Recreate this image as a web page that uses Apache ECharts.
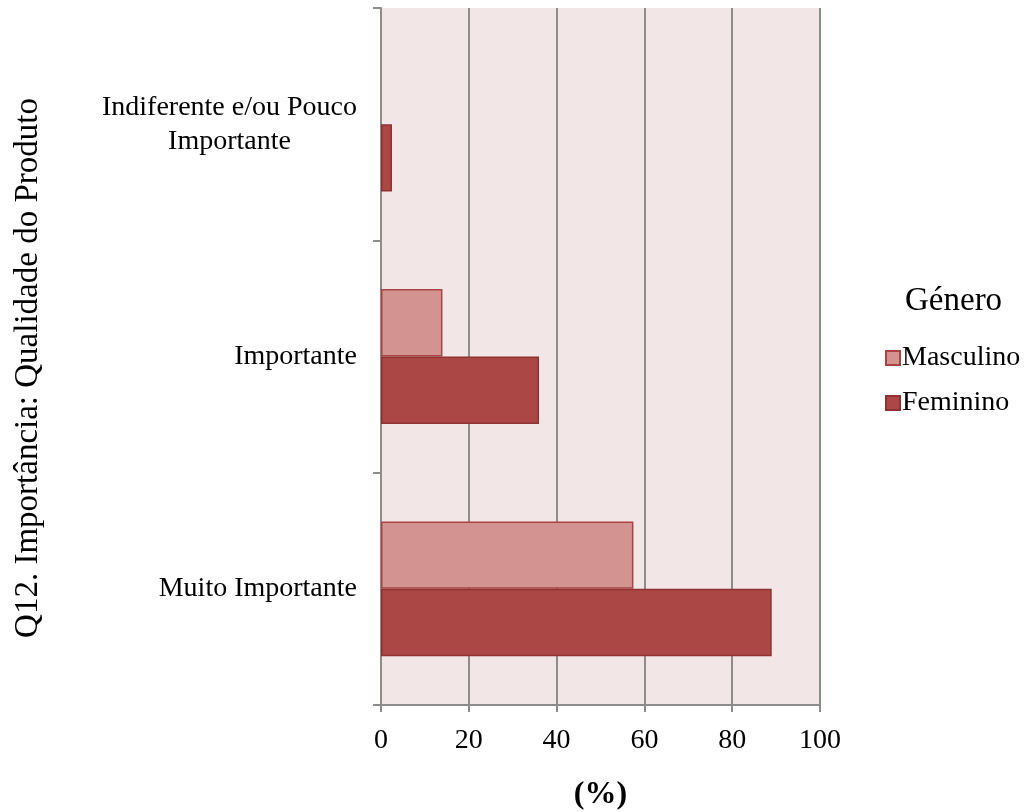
<!DOCTYPE html>
<html><head><meta charset="utf-8">
<script src="https://cdn.jsdelivr.net/npm/echarts@6/dist/echarts.min.js"></script>
<style>html,body{margin:0;padding:0;background:#fff}#c{width:1026px;height:812px}</style>
</head><body><div id="c"></div>
<script>
const categories = ['Indiferente e/ou Pouco Importante', 'Importante', 'Muito Importante'];
const categoryLabels = ['Indiferente e/ou Pouco\nImportante', 'Importante', 'Muito Importante'];
const masculino = [null, 14, 57.5];
const feminino = [2.5, 36, 89];
const xTicks = [0, 20, 40, 60, 80, 100];
const seriesNames = ['Masculino', 'Feminino'];
const legendTitle = 'Género';
const yTitle = 'Q12. Importância: Qualidade do Produto';
const xTitle = '(%)';

const FONT = '"Liberation Serif", "Times New Roman", serif';
const chart = echarts.init(document.getElementById('c'));
chart.setOption({
  animation: false,
  textStyle: { fontFamily: FONT },
  grid: { left: 381, right: 206, top: 8, bottom: 107, outerBoundsMode: 'none', containLabel: false,
          show: true, backgroundColor: '#F2E6E6', borderWidth: 0 },
  title: { text: legendTitle, left: 900, top: 280, textStyle: { fontFamily: FONT, fontSize: 33, fontWeight: 'normal', color: '#000' } },
  legend: {
    orient: 'vertical', left: 880, top: 339, itemWidth: 14, itemHeight: 14, itemGap: 17, icon: 'rect',
    data: seriesNames,
    textStyle: { fontFamily: FONT, fontSize: 28, color: '#000', padding: [0, 0, 0, -3] }
  },
  xAxis: {
    type: 'value', min: xTicks[0], max: xTicks[xTicks.length - 1], interval: 20,
    name: xTitle, nameLocation: 'middle', nameGap: 74,
    nameTextStyle: { fontFamily: FONT, fontSize: 32, fontWeight: 'bold', color: '#000' },
    axisLine: { show: true, lineStyle: { color: '#8c8c8c', width: 2 } },
    axisTick: { show: true, length: 7, lineStyle: { color: '#8c8c8c', width: 2 } },
    splitLine: { show: true, lineStyle: { color: '#8c8c8c', width: 2 } },
    axisLabel: { fontFamily: FONT, fontSize: 28, color: '#000', margin: 22 }
  },
  yAxis: {
    type: 'category', inverse: true, data: categories,
    axisLine: { show: true, lineStyle: { color: '#8c8c8c', width: 2 } },
    axisTick: { show: true, length: 8, lineStyle: { color: '#8c8c8c', width: 2 } },
    axisLabel: {
      margin: 24, color: '#000', fontFamily: FONT, fontSize: 28,
      formatter: (v, i) => categoryLabels[i].split('\n').map(s => '{c|' + s + '}').join('\n'),
      rich: { c: { align: 'center', fontFamily: FONT, fontSize: 28, lineHeight: 34, color: '#000' } }
    }
  },
  graphic: [{
    type: 'text', x: 28, y: 368, rotation: Math.PI / 2,
    style: { text: yTitle, fontFamily: FONT, fontSize: 33, fill: '#000', align: 'center', verticalAlign: 'middle' }
  }],
  series: [
    { name: seriesNames[0], type: 'bar', data: masculino, barGap: '0%', barCategoryGap: '42%',
      itemStyle: { color: '#D39391', borderColor: '#A94442', borderWidth: 1.5 } },
    { name: seriesNames[1], type: 'bar', data: feminino, barGap: '0%', barCategoryGap: '42%',
      itemStyle: { color: '#AB4745', borderColor: '#8E3331', borderWidth: 1.5 } }
  ]
});
</script></body></html>
